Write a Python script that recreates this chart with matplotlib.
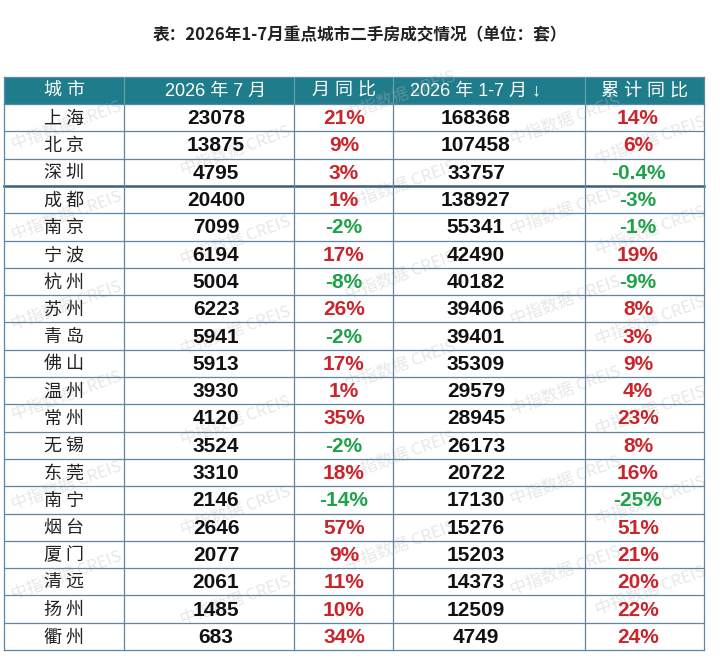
import matplotlib
matplotlib.use("Agg")
import matplotlib.pyplot as plt
from matplotlib.patches import Rectangle

plt.rcParams['font.family'] = ['Liberation Sans', 'Noto Sans CJK SC', 'DejaVu Sans']

title = "表：2026年1-7月重点城市二手房成交情况（单位：套）"
headers = ["城 市", "2026 年 7 月", "月 同 比", "2026 年 1-7 月 ↓", "累 计 同 比"]

cities = ["上海", "北京", "深圳", "成都", "南京", "宁波", "杭州", "苏州", "青岛", "佛山",
          "温州", "常州", "无锡", "东莞", "南宁", "烟台", "厦门", "清远", "扬州", "衢州"]
july = [23078, 13875, 4795, 20400, 7099, 6194, 5004, 6223, 5941, 5913,
        3930, 4120, 3524, 3310, 2146, 2646, 2077, 2061, 1485, 683]
july_yoy = [21, 9, 3, 1, -2, 17, -8, 26, -2, 17,
            1, 35, -2, 18, -14, 57, 9, 11, 10, 34]
ytd = [168368, 107458, 33757, 138927, 55341, 42490, 40182, 39406, 39401, 35309,
       29579, 28945, 26173, 20722, 17130, 15276, 15203, 14373, 12509, 4749]
ytd_yoy = [14, 6, -0.4, -3, -1, 19, -9, 8, 3, 9,
           4, 23, 8, 16, -25, 51, 21, 20, 22, 24]

# layout in pixels
col_edges = [4, 124, 294, 393, 585, 704]
text_x = [64, 216, 344, 476, 638]
top = 77
head_h = 27
row_h = 27.3

header_col = "#1f7d8b"
grid_col = "#5f86a3"
red = "#c9252c"
green = "#1fa24a"

fig = plt.figure(figsize=(7.2, 6.69), dpi=100)
ax = fig.add_axes([0, 0, 1, 1])
ax.set_xlim(0, 720)
ax.set_ylim(669, 0)
ax.axis("off")

ax.text(360, 35, title, ha="center", va="center", fontsize=12, fontweight="bold",
        color="#222222", family=['Noto Sans CJK SC', 'DejaVu Sans'])

# header band
ax.add_patch(Rectangle((col_edges[0], top), col_edges[-1] - col_edges[0], head_h,
                       facecolor=header_col, edgecolor="none", zorder=1))
for i, h in enumerate(headers):
    ax.text(text_x[i] if i not in (0, 2, 4) else (col_edges[i] + col_edges[i + 1]) / 2,
            top + head_h / 2 + 1, h, ha="center", va="center", fontsize=13,
            color="white", zorder=4)

n = len(cities)
body_top = top + head_h
bottom = body_top + n * row_h

# watermarks
wm_x = [66, 235, 400, 565, 650]
wm_y0 = [125, 150, 95, 120, 140]
for cx, y0 in zip(wm_x, wm_y0):
    y = y0
    while y < bottom - 15:
        ax.text(cx, y, "中指数据 CREIS", ha="center", va="center", fontsize=12,
                color="#bcbcbc", alpha=0.35, rotation=20, zorder=2,
                family=['Noto Sans CJK SC', 'DejaVu Sans'])
        y += 90

# grid
for i in range(n + 1):
    y = body_top + i * row_h
    lw = 1.8 if i == 3 else 0.9
    c = "#3f5f78" if i == 3 else grid_col
    ax.plot([col_edges[0], col_edges[-1]], [y, y], color=c, lw=lw, zorder=3)
for x in col_edges:
    ax.plot([x, x], [body_top, bottom], color=grid_col, lw=0.9, zorder=3)
ax.plot([col_edges[0], col_edges[-1]], [top, top], color=grid_col, lw=0.9, zorder=3)
for x in (col_edges[0], col_edges[-1]):
    ax.plot([x, x], [top, body_top], color=grid_col, lw=0.9, zorder=3)
for x in col_edges[1:-1]:
    ax.plot([x, x], [top, body_top], color="#6aa3ad", lw=0.8, zorder=3)


def pct(v):
    return f"{v:g}%"


for r in range(n):
    yc = body_top + (r + 0.5) * row_h + 1
    ax.text(text_x[0], yc, " ".join(cities[r]), ha="center", va="center", fontsize=13,
            color="#222222", family=['Noto Sans CJK SC', 'DejaVu Sans'], zorder=4)
    ax.text(text_x[1], yc, str(july[r]), ha="center", va="center", fontsize=15,
            fontweight="bold", color="#111111", zorder=4)
    ax.text(text_x[2], yc, pct(july_yoy[r]), ha="center", va="center", fontsize=15,
            fontweight="bold", color=red if july_yoy[r] > 0 else green, zorder=4)
    ax.text(text_x[3], yc, str(ytd[r]), ha="center", va="center", fontsize=15,
            fontweight="bold", color="#111111", zorder=4)
    ax.text(text_x[4], yc, pct(ytd_yoy[r]), ha="center", va="center", fontsize=15,
            fontweight="bold", color=red if ytd_yoy[r] > 0 else green, zorder=4)

fig.savefig("out.png", dpi=100)
